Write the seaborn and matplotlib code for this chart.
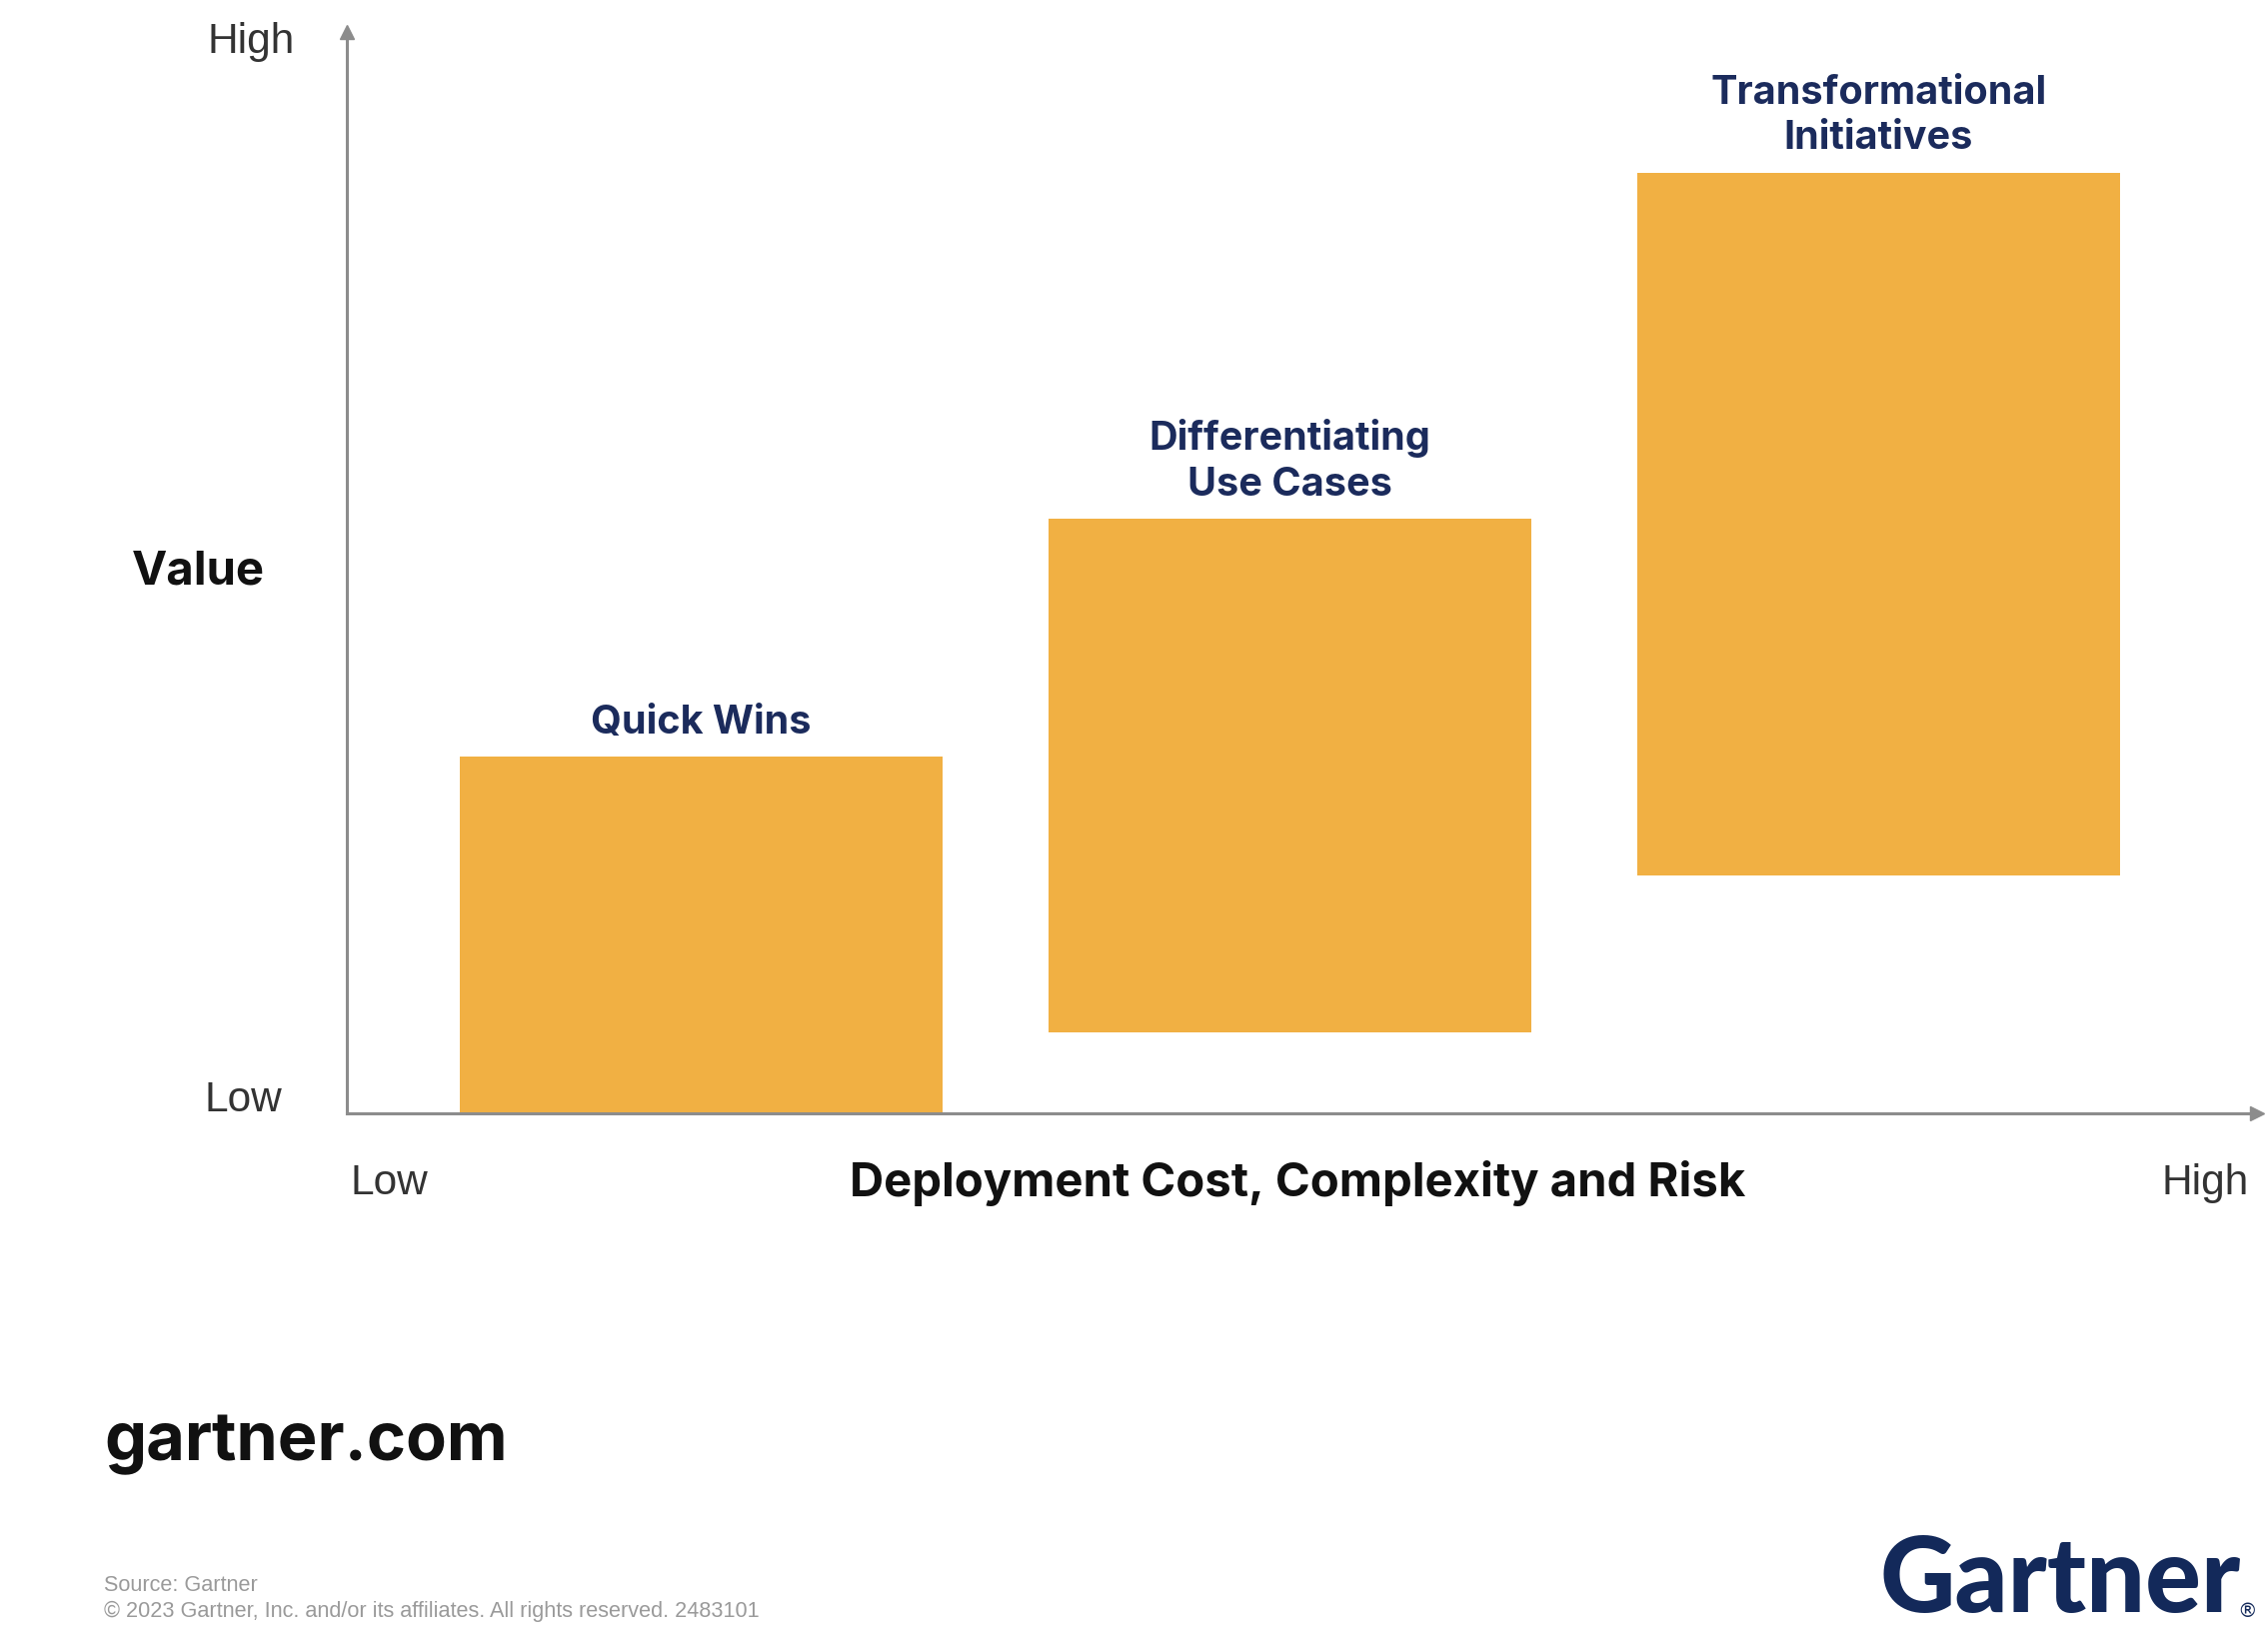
import matplotlib
matplotlib.use("Agg")
import matplotlib.pyplot as plt
import seaborn as sns
import pandas as pd

# ---- data ----
categories = ["Quick Wins", "Differentiating\nUse Cases", "Transformational\nInitiatives"]
value_low = [0.0, 7.5, 22.0]
value_high = [33.0, 55.0, 87.0]
axis_low_label = "Low"
axis_high_label = "High"
x_title = "Deployment Cost, Complexity and Risk"
y_title = "Value"

W, H = 2269, 1651
BAR = "#F1B043"
NAVY = "#1B2B5C"
AXIS = "#8C8C8C"

sns.set_theme(style="white")
plt.rcParams["font.family"] = ["Inter", "DejaVu Sans"]

fig = plt.figure(figsize=(W / 100, H / 100), dpi=100)
fig.patch.set_facecolor("white")

def fx(px):
    return px / W

def fy(py):
    return 1 - py / H

ax_left, ax_right, ax_top, ax_bottom = 347, 2258, 32, 1114
ax = fig.add_axes([fx(ax_left), fy(ax_bottom), (ax_right - ax_left) / W, (ax_bottom - ax_top) / H])
ax.set_facecolor("none")

df = pd.DataFrame({
    "category": categories,
    "height": [h - l for h, l in zip(value_high, value_low)],
    "bottom": value_low,
})

sns.barplot(data=df, x="category", y="height", bottom=df["bottom"].values,
            color=BAR, saturation=1, width=0.82, ax=ax, linewidth=0)

ax.set_xlim(-0.602, 2.643)
ax.set_ylim(0, 100)
ax.set_xticks([])
ax.set_yticks([])
ax.set_xlabel("")
ax.set_ylabel("")
for s in ["top", "right"]:
    ax.spines[s].set_visible(False)
for s in ["left", "bottom"]:
    ax.spines[s].set_color(AXIS)
    ax.spines[s].set_linewidth(2.2)
    ax.spines[s].set_zorder(5)

ax.plot(1, 0, ">", color=AXIS, markersize=10, transform=ax.transAxes, clip_on=False, zorder=6)
ax.plot(0, 1, "^", color=AXIS, markersize=10, transform=ax.transAxes, clip_on=False, zorder=6)

# bar labels
for i, (cat, top) in enumerate(zip(categories, value_high)):
    ax.annotate(cat, xy=(i, top), xytext=(0, 11), textcoords="offset points",
                ha="center", va="bottom", fontsize=28.5, fontweight="bold",
                color=NAVY, linespacing=1.3)

# axis labels
txt_kw = dict(fontsize=30.5, color="#333333", family=["Liberation Sans", "DejaVu Sans"])
fig.text(fx(295), fy(42), axis_high_label, ha="right", va="center", **txt_kw)
fig.text(fx(282), fy(1101), axis_low_label, ha="right", va="center", **txt_kw)
fig.text(fx(350), fy(1184), axis_low_label, ha="left", va="center", **txt_kw)
fig.text(fx(2250), fy(1184), axis_high_label, ha="right", va="center", **txt_kw)
fig.text(fx(265), fy(572), y_title, ha="right", va="center", fontsize=34,
         fontweight="bold", color="#111111")
fig.text(fx(1298), fy(1184), x_title, ha="center", va="center", fontsize=34,
         fontweight="bold", color="#111111")

# footer
fig.text(fx(104), fy(1444), "gartner.com", ha="left", va="center", fontsize=48,
         fontweight="bold", color="#111111")
foot_kw = dict(ha="left", va="center", fontsize=15.6, color="#9A9A9A",
               family=["Liberation Sans", "DejaVu Sans"])
fig.text(fx(104), fy(1586), "Source: Gartner", **foot_kw)
fig.text(fx(104), fy(1612),
         "© 2023 Gartner, Inc. and/or its affiliates. All rights reserved. 2483101", **foot_kw)
fig.text(fx(2242), fy(1582), "Gartner", ha="right", va="center", fontsize=75,
         fontweight="black", color="#13295A", family=["Lato", "DejaVu Sans"])
fig.text(fx(2258), fy(1612), "®", ha="right", va="center", fontsize=14,
         color="#13295A", family=["DejaVu Sans"])

fig.savefig("out.png", dpi=100, facecolor="white")
